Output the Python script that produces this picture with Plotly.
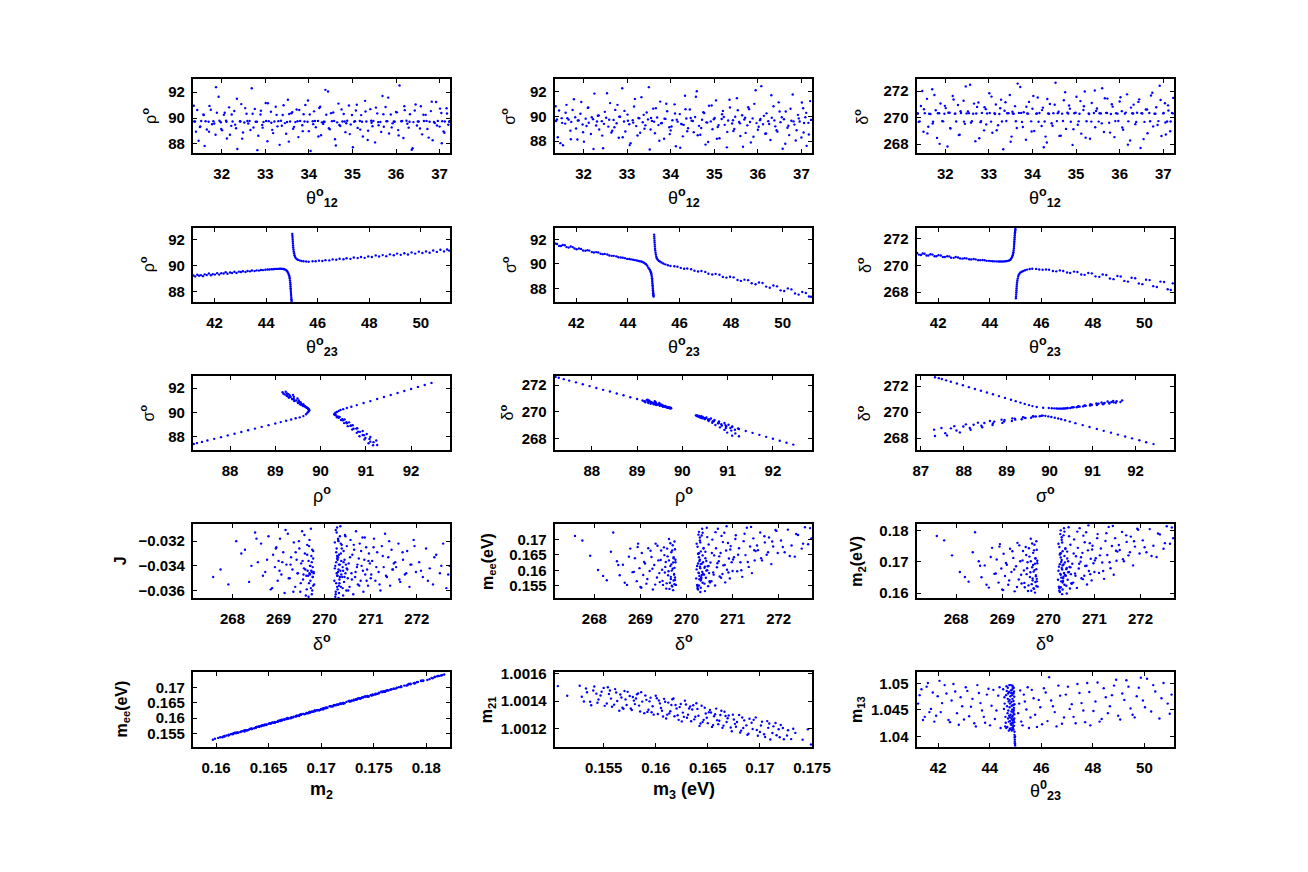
import plotly.graph_objects as go

W, H = 1308, 872

# ---------------- Row 1: scans against theta12 ----------------
B_th12 = [31.37, 31.41, 31.44, 31.50, 31.53, 31.58, 31.61, 31.66, 31.70, 31.72,
          31.78, 31.81, 31.86, 31.89, 31.93, 31.98, 32.01, 32.05, 32.10, 32.12,
          32.17, 32.22, 32.25, 32.29, 32.33, 32.36, 32.42, 32.45, 32.49, 32.52,
          32.57, 32.61, 32.64, 32.69, 32.73, 32.76, 32.81, 32.84, 32.89, 32.93,
          32.96, 33.01, 33.05, 33.08, 33.13, 33.16, 33.21, 33.24, 33.28, 33.33,
          33.36, 33.40, 33.45, 33.48, 33.52, 33.57, 33.60, 33.64, 33.69, 33.72,
          33.76, 33.80, 33.85, 33.88, 33.92, 33.97, 34.00, 34.04, 34.09, 34.12,
          34.16, 34.21, 34.24, 34.28, 34.33, 34.36, 34.40, 34.44, 34.48, 34.53,
          34.56, 34.60, 34.65, 34.68, 34.72, 34.77, 34.80, 34.84, 34.88, 34.92,
          34.96, 35.01, 35.04, 35.08, 35.12, 35.17, 35.20, 35.24, 35.29, 35.32,
          35.36, 35.41, 35.44, 35.48, 35.52, 35.57, 35.60, 35.64, 35.69, 35.72,
          35.76, 35.80, 35.84, 35.88, 35.92, 35.97, 36.00, 36.05, 36.08, 36.12,
          36.17, 36.20, 36.24, 36.29, 36.32, 36.36, 36.40, 36.45, 36.48, 36.52,
          36.57, 36.60, 36.64, 36.68, 36.72, 36.77, 36.80, 36.84, 36.89, 36.92,
          36.96, 37.00, 37.04, 37.09, 37.12, 37.16, 37.20, 37.23, 37.05, 33.55,
          37.22, 37.17, 37.11, 37.06, 37.01, 36.94, 36.87, 36.82, 36.75, 36.70,
          36.63, 36.55, 36.50, 36.43, 36.38, 36.31, 36.26, 36.19, 36.14, 36.06,
          36.02, 35.95, 35.90, 35.82, 35.78, 35.71, 35.66, 35.59, 35.54, 35.46,
          35.43, 35.35, 35.30, 35.22, 35.18, 35.10, 35.06, 34.99, 34.94, 34.86,
          34.82, 34.75, 34.70, 34.62, 34.58, 34.51, 34.46, 34.38, 34.34, 34.26,
          34.22, 34.14, 34.10, 34.02, 33.98, 33.90, 33.86, 33.78, 33.74, 33.66,
          33.62, 33.54, 33.50, 33.42, 33.38, 33.30, 33.26, 33.18, 33.14, 33.06,
          33.02, 32.94, 32.90, 32.82, 32.78, 32.71, 32.66, 32.59, 32.54, 32.47,
          32.43, 32.35, 32.31, 32.23, 32.19, 32.11, 32.07, 31.99, 31.95, 31.87,
          31.83, 31.75, 31.71, 31.63, 31.59, 31.51, 31.47, 31.39, 31.36, 34.30]
B_rho = [89.74, 88.95, 90.62, 89.31, 89.77, 90.28, 87.85, 89.12, 89.71, 90.94,
         89.52, 89.76, 88.71, 90.41, 91.65, 89.68, 89.05, 90.25, 89.79, 88.42,
         90.83, 89.40, 89.73, 90.55, 89.21, 87.61, 89.75, 91.08, 88.88, 89.66,
         90.33, 89.58, 89.78, 92.31, 89.27, 90.71, 89.72, 88.63, 90.27, 89.47,
         89.70, 91.17, 88.21, 89.76, 90.49, 89.09, 89.74, 90.88, 89.36, 87.93,
         89.79, 90.24, 89.61, 88.79, 91.42, 89.73, 90.37, 89.18, 89.69, 90.66,
         88.53, 89.77, 89.44, 90.29, 91.01, 89.71, 88.99, 87.45, 89.75, 90.52,
         89.29, 89.78, 90.78, 88.67, 89.55, 89.72, 90.26, 92.05, 89.14, 89.76,
         90.43, 88.36, 89.67, 91.12, 89.39, 89.74, 90.31, 88.91, 89.79, 90.97,
         89.50, 87.74, 89.71, 90.59, 89.24, 89.77, 90.23, 88.58, 91.33, 89.73,
         89.02, 90.69, 89.64, 89.78, 88.12, 90.36, 89.45, 89.70, 91.71, 89.33,
         90.85, 89.76, 88.81, 90.27, 89.59, 89.72, 90.47, 89.07, 92.52, 89.75,
         88.46, 90.61, 89.79, 89.26, 90.30, 87.55, 89.69, 91.05, 89.42, 89.74,
         90.91, 88.74, 89.77, 90.25, 89.16, 89.71, 90.54, 88.28, 89.62, 91.24,
         89.78, 89.34, 90.39, 88.97, 89.73, 90.76, 89.48, 89.76, 88.05, 90.32,
         89.72, 90.35, 88.87, 89.76, 90.73, 89.43, 89.70, 91.27, 88.49, 89.78,
         90.26, 89.19, 89.74, 90.58, 87.67, 89.71, 89.56, 90.92, 89.77, 88.66,
         90.44, 89.73, 89.28, 91.58, 89.75, 90.29, 88.93, 89.69, 90.81, 89.37,
         89.79, 88.31, 90.51, 89.72, 89.11, 91.03, 89.76, 90.24, 88.76, 89.60,
         89.74, 90.67, 89.47, 87.88, 89.78, 90.38, 89.22, 92.18, 89.71, 90.87,
         88.57, 89.77, 89.53, 90.28, 91.36, 89.73, 88.99, 90.62, 89.75, 89.32,
         90.46, 88.18, 89.70, 90.99, 89.41, 89.76, 90.25, 88.84, 89.64, 91.15,
         89.78, 89.26, 90.56, 87.52, 89.72, 90.33, 89.08, 89.77, 90.77, 88.41,
         89.74, 91.49, 89.49, 90.27, 88.71, 89.71, 90.41, 89.15, 89.79, 92.39,
         89.58, 90.64, 88.95, 89.75, 90.23, 89.35, 88.25, 89.73, 90.95, 89.67]
B_sig = [89.62, 88.31, 90.47, 89.85, 87.66, 89.41, 90.93, 89.73, 88.84, 89.55,
         91.38, 89.92, 88.12, 89.67, 90.21, 89.34, 87.95, 89.81, 90.68, 89.48,
         88.57, 89.77, 91.84, 89.26, 90.05, 88.93, 89.61, 87.42, 90.36, 89.88,
         89.17, 91.07, 88.69, 89.71, 90.52, 89.44, 88.26, 89.96, 92.27, 89.58,
         88.77, 90.14, 89.36, 87.83, 89.69, 90.79, 89.21, 88.45, 89.84, 91.55,
         89.52, 88.99, 90.31, 89.75, 87.31, 89.63, 90.62, 88.63, 89.91, 89.29,
         91.19, 89.46, 88.18, 89.79, 90.41, 89.11, 88.86, 89.68, 90.97, 87.58,
         89.57, 90.18, 89.39, 88.38, 91.66, 89.82, 89.03, 90.55, 89.65, 88.72,
         89.94, 92.03, 89.23, 88.51, 89.72, 90.27, 87.71, 89.49, 90.86, 89.59,
         88.95, 89.87, 91.29, 89.14, 88.22, 89.78, 90.44, 89.31, 87.49, 89.66,
         90.71, 89.42, 88.81, 89.97, 91.47, 89.55, 88.41, 90.09, 89.74, 88.66,
         89.27, 90.58, 87.89, 89.83, 91.01, 89.45, 88.91, 89.69, 92.44, 89.36,
         88.59, 90.24, 89.61, 88.08, 89.89, 90.82, 89.19, 88.76, 91.13, 89.53,
         87.37, 89.76, 90.39, 89.08, 88.48, 89.64, 91.77, 89.33, 88.87, 90.12,
         89.58, 88.29, 90.65, 89.93, 87.61, 89.47, 91.23, 89.71, 88.69, 89.86,
         89.71, 88.53, 90.28, 89.46, 91.12, 89.83, 88.04, 89.59, 90.61, 89.24,
         87.78, 89.92, 90.39, 88.88, 89.67, 91.71, 89.38, 88.61, 90.04, 89.79,
         89.15, 92.11, 88.35, 89.54, 90.73, 89.89, 87.54, 89.43, 90.49, 88.97,
         89.68, 91.34, 88.74, 89.95, 90.17, 89.29, 88.19, 89.76, 90.88, 87.92,
         89.51, 90.33, 89.06, 88.47, 91.58, 89.62, 89.87, 88.79, 90.57, 89.35,
         87.46, 89.73, 90.23, 89.18, 88.56, 91.02, 89.81, 89.44, 88.02, 90.66,
         89.57, 88.93, 92.36, 89.27, 90.12, 88.67, 89.86, 91.41, 89.49, 87.67,
         89.64, 90.44, 88.31, 89.96, 90.93, 89.11, 88.83, 89.72, 91.87, 89.39,
         88.44, 90.07, 89.58, 87.36, 89.93, 90.71, 89.22, 88.71, 91.16, 89.66,
         89.01, 90.51, 88.14, 89.84, 90.29, 89.47, 87.83, 89.74, 90.82, 89.31]
B_dl = [270.31, 269.72, 270.88, 268.94, 270.34, 271.42, 269.31, 270.28, 272.15, 269.69,
        270.56, 268.47, 270.33, 271.07, 269.74, 270.29, 270.72, 267.82, 270.37, 269.18,
        271.63, 270.30, 269.71, 270.95, 268.71, 270.35, 271.28, 269.53, 270.32, 270.47,
        272.48, 269.73, 270.29, 268.22, 270.81, 271.14, 269.66, 270.36, 269.04, 270.64,
        270.31, 271.84, 269.70, 268.86, 270.34, 270.99, 269.42, 270.28, 271.36, 267.61,
        270.52, 269.75, 270.33, 271.71, 268.57, 270.30, 270.87, 269.22, 270.36, 272.31,
        269.68, 270.41, 268.33, 270.32, 271.19, 269.72, 270.67, 268.99, 270.29, 271.52,
        270.35, 269.37, 270.76, 269.71, 268.12, 270.31, 271.03, 269.58, 270.34, 272.63,
        269.74, 270.44, 268.64, 270.30, 271.31, 269.15, 270.37, 270.92, 269.69, 267.94,
        270.33, 271.58, 269.46, 270.29, 268.79, 270.58, 271.97, 269.73, 270.32, 268.41,
        271.11, 270.35, 269.27, 270.69, 269.70, 270.31, 272.22, 268.91, 270.36, 271.44,
        269.61, 270.28, 270.83, 268.53, 270.34, 269.75, 271.22, 270.49, 269.09, 270.30,
        271.76, 269.72, 268.27, 270.33, 270.98, 269.51, 270.37, 271.38, 267.71, 270.31,
        269.68, 270.62, 268.82, 270.35, 271.67, 269.34, 270.29, 270.79, 269.74, 272.41,
        268.61, 270.32, 271.09, 269.71, 270.54, 268.97, 270.36, 271.49, 269.63, 270.30,
        270.32, 269.71, 270.93, 268.73, 270.36, 271.33, 269.44, 270.29, 271.88, 269.73,
        270.61, 268.38, 270.34, 271.19, 269.68, 270.31, 270.76, 267.96, 270.38, 269.26,
        271.54, 270.30, 269.74, 271.01, 268.87, 270.35, 271.47, 269.57, 270.33, 270.51,
        272.05, 269.70, 270.28, 268.49, 270.86, 271.25, 269.72, 270.37, 269.12, 270.68,
        270.31, 271.92, 269.75, 268.62, 270.34, 270.97, 269.39, 270.29, 271.41, 267.76,
        270.57, 269.69, 270.32, 271.64, 268.95, 270.30, 270.82, 269.29, 270.36, 272.57,
        269.73, 270.45, 268.18, 270.33, 271.16, 269.71, 270.71, 269.05, 270.28, 271.59,
        270.35, 269.49, 270.79, 269.74, 268.44, 270.31, 271.06, 269.62, 270.34, 272.36,
        269.70, 270.48, 268.68, 270.30, 271.37, 269.21, 270.37, 270.89, 269.72, 268.02,
        270.33, 271.71, 269.55, 270.29, 268.81, 270.63, 272.01, 269.68, 270.32, 268.57]

# ---------------- Rows 2-3: theta23, rho, sigma, delta ----------------
A_th23 = [41.18, 41.25, 41.33, 41.4, 41.47, 41.55, 41.62, 41.7, 41.78, 41.86,
          41.93, 42.01, 42.1, 42.18, 42.26, 42.35, 42.43, 42.5, 42.6, 42.68,
          42.77, 42.85, 42.94, 43.02, 43.1, 43.2, 43.28, 43.37, 43.45, 43.55,
          43.63, 43.72, 43.8, 43.88, 43.97,
          44.05, 44.12, 44.2, 44.27, 44.34, 44.4, 44.46, 44.52, 44.57, 44.62, 44.66, 44.7,
          44.75, 44.79, 44.82, 44.85, 44.87, 44.89, 44.905, 44.915, 44.925, 44.935, 44.94,
          44.945, 44.95, 44.955, 44.96, 44.965, 44.97, 44.975, 44.98, 44.985, 44.99, 44.995,
          45.015, 45.02, 45.025, 45.03, 45.035, 45.04, 45.045, 45.05, 45.06, 45.07, 45.085,
          45.1, 45.12, 45.15, 45.19, 45.24, 45.3, 45.37, 45.45, 45.55, 45.65,
          45.8, 45.92, 46.05, 46.18, 46.3, 46.45, 46.58, 46.72, 46.85, 47.0,
          47.12, 47.27, 47.4, 47.55, 47.68, 47.82, 47.96, 48.1, 48.25, 48.38,
          48.52, 48.66, 48.8, 48.95, 49.08, 49.22, 49.36, 49.5, 49.64, 49.78,
          49.92, 50.06, 50.2, 50.34, 50.48, 50.62, 50.76, 50.9, 51.02, 51.1]
A_rho = [89.23, 89.16, 89.29, 89.21, 89.26, 89.18, 89.32, 89.26, 89.39, 89.25,
         89.34, 89.30, 89.41, 89.30, 89.41, 89.38, 89.49, 89.37, 89.46, 89.42,
         89.52, 89.42, 89.53, 89.50, 89.56, 89.50, 89.58, 89.55, 89.62, 89.57,
         89.63, 89.61, 89.66, 89.65, 89.68,
         89.69, 89.70, 89.72, 89.72, 89.73, 89.74, 89.74, 89.75, 89.75, 89.74, 89.73, 89.71,
         89.68, 89.62, 89.54, 89.45, 89.35, 89.24, 89.12, 89.0, 88.85, 88.7, 88.55,
         88.4, 88.25, 88.1, 87.95, 87.8, 87.65, 87.5, 87.38, 87.27, 87.2, 87.12,
         92.45, 92.3, 92.15, 92.0, 91.85, 91.7, 91.55, 91.4, 91.25, 91.1, 90.95,
         90.8, 90.68, 90.58, 90.5, 90.44, 90.4, 90.36, 90.33, 90.31, 90.30,
         90.33, 90.33, 90.38, 90.36, 90.42, 90.40, 90.48, 90.45, 90.53, 90.49,
         90.57, 90.52, 90.63, 90.58, 90.67, 90.60, 90.71, 90.66, 90.79, 90.70,
         90.81, 90.73, 90.87, 90.80, 90.93, 90.83, 90.96, 90.86, 91.02, 90.93,
         91.08, 90.97, 91.10, 90.99, 91.17, 91.06, 91.23, 91.10, 91.25, 91.16]
A_sig = [91.69, 91.65, 91.49, 91.48, 91.56, 91.54, 91.39, 91.35, 91.44, 91.39,
         91.27, 91.21, 91.28, 91.24, 91.11, 91.09, 91.14, 91.10, 90.98, 90.95,
         90.98, 90.94, 90.84, 90.81, 90.83, 90.78, 90.70, 90.67, 90.67, 90.63,
         90.56, 90.53, 90.52, 90.48, 90.42,
         90.41, 90.38, 90.35, 90.32, 90.29, 90.26, 90.23, 90.20, 90.16, 90.11, 90.05, 89.98,
         89.85, 89.70, 89.60, 89.52, 89.42, 89.32, 89.21, 89.10, 88.96, 88.82, 88.68,
         88.54, 88.40, 88.26, 88.12, 87.98, 87.84, 87.70, 87.59, 87.49, 87.42, 87.33,
         92.42, 92.25, 92.09, 91.92, 91.76, 91.59, 91.43, 91.26, 91.10, 90.93, 90.77,
         90.60, 90.47, 90.36, 90.27, 90.20, 90.12, 90.04, 89.97, 89.90, 89.84,
         89.81, 89.77, 89.68, 89.61, 89.63, 89.57, 89.44, 89.38, 89.42, 89.35,
         89.20, 89.13, 89.19, 89.12, 88.94, 88.88, 88.95, 88.90, 88.68, 88.61,
         88.71, 88.67, 88.41, 88.33, 88.48, 88.43, 88.14, 88.05, 88.23, 88.16,
         87.83, 87.78, 87.99, 87.91, 87.57, 87.48, 87.70, 87.61, 87.33, 87.31]
A_dl = [270.91, 270.79, 270.76, 270.87, 270.85, 270.72, 270.72, 270.82, 270.79, 270.67,
        270.67, 270.75, 270.72, 270.61, 270.61, 270.67, 270.66, 270.56, 270.55, 270.61,
        270.58, 270.51, 270.49, 270.53, 270.51, 270.45, 270.43, 270.46, 270.44, 270.38,
        270.38, 270.39, 270.37, 270.33, 270.33,
        270.31, 270.30, 270.29, 270.29, 270.28, 270.28, 270.28, 270.28, 270.29, 270.30, 270.31, 270.33,
        270.35, 270.40, 270.47, 270.55, 270.64, 270.74, 270.85, 270.96, 271.10, 271.24, 271.38,
        271.52, 271.65, 271.79, 271.93, 272.07, 272.21, 272.34, 272.45, 272.55, 272.62, 272.69,
        267.55, 267.69, 267.84, 267.99, 268.13, 268.28, 268.43, 268.57, 268.72, 268.87, 269.01,
        269.16, 269.28, 269.38, 269.46, 269.52, 269.58, 269.63, 269.68, 269.72, 269.74,
        269.73, 269.69, 269.67, 269.69, 269.67, 269.58, 269.55, 269.62, 269.58, 269.46,
        269.43, 269.53, 269.50, 269.32, 269.29, 269.43, 269.40, 269.18, 269.14, 269.32,
        269.28, 269.02, 268.97, 269.20, 269.17, 268.84, 268.79, 269.07, 269.04, 268.65,
        268.60, 268.93, 268.90, 268.45, 268.39, 268.79, 268.76, 268.22, 268.17, 268.66]

# ---------------- Row 4 (and row 5, col 1): delta, J, m2, mee ----------------
C_dl = [267.58, 267.91, 268.08, 268.27, 268.41, 268.49, 268.55, 268.62, 268.71, 268.78,
        268.83, 268.88, 268.92, 268.95, 268.98, 269.00, 269.03, 269.06, 269.10, 269.13,
        269.17, 269.20, 269.24, 269.27, 269.30, 269.33, 269.36, 269.39, 269.42, 269.45,
        269.47, 269.49, 269.51, 269.53, 269.55, 269.57, 269.59, 269.60, 269.62, 269.63,
        269.65, 269.66, 269.67, 269.68, 269.69, 269.70, 269.71, 269.72, 269.72, 269.73,
        269.74, 269.74, 269.75, 269.75, 269.76,
        270.22, 270.23, 270.24, 270.25, 270.25, 270.26, 270.27, 270.27, 270.28, 270.29,
        270.29, 270.30, 270.31, 270.31, 270.32, 270.33, 270.34, 270.35, 270.35, 270.36,
        270.37, 270.38, 270.39, 270.40, 270.41, 270.42, 270.43, 270.44, 270.45, 270.46,
        270.47, 270.48, 270.49, 270.50, 270.27,
        270.52, 270.54, 270.56, 270.58, 270.60, 270.62, 270.64, 270.66, 270.68, 270.70,
        270.72, 270.74, 270.76, 270.78, 270.80, 270.82, 270.84, 270.86, 270.88, 270.90,
        270.92, 270.94, 270.96, 270.98, 271.00,
        271.03, 271.07, 271.10, 271.14, 271.17, 271.21, 271.24, 271.28, 271.31, 271.35,
        271.38, 271.42, 271.45, 271.48, 271.50,
        271.55, 271.60, 271.64, 271.70, 271.74, 271.79, 271.84, 271.88, 271.93, 271.98,
        272.05, 272.13, 272.20, 272.28, 272.35, 272.42, 272.50, 272.57, 272.64, 272.71,
        267.74, 268.19, 268.36, 268.52, 268.66, 268.75, 268.86, 268.94, 269.02, 269.08,
        269.15, 269.22, 269.26, 269.32, 269.37, 269.41, 269.44, 269.48, 269.52, 269.54,
        269.56, 269.58, 269.61, 269.62, 269.64, 269.65, 269.66, 269.67, 269.68, 269.69,
        269.70, 269.71, 269.72, 269.73, 269.74, 269.75, 269.76, 269.77,
        270.21, 270.22, 270.23, 270.24, 270.25, 270.26, 270.26, 270.27, 270.28, 270.28,
        270.29, 270.30, 270.30, 270.31, 270.32, 270.33, 270.34, 270.36, 270.37, 270.39,
        270.41, 270.43, 270.45, 270.48, 270.51, 270.55, 270.59, 270.63, 270.67, 270.71,
        270.75, 270.79, 270.83, 270.87, 270.91, 270.95, 271.01, 271.06, 271.12, 271.19,
        271.26, 271.33, 271.40, 271.47, 271.53, 271.62, 271.69, 271.77, 271.86, 271.95,
        272.09, 272.24, 272.38, 272.53, 272.68, 270.24, 270.29, 270.33, 270.27, 270.31,
        270.35, 270.40]
C_J = [-0.0349, -0.0355, -0.0320, -0.0327, -0.0340, -0.0313, -0.0337, -0.0322, -0.0345, -0.0316,
       -0.0359, -0.0331, -0.0341, -0.0325, -0.0352, -0.0336, -0.0318, -0.0347, -0.0329, -0.0362,
       -0.0339, -0.0314, -0.0350, -0.0333, -0.0343, -0.0321, -0.0357, -0.0335, -0.0346, -0.0326,
       -0.0361, -0.0338, -0.0312, -0.0351, -0.0342, -0.0330, -0.0364, -0.0348, -0.0323, -0.0344,
       -0.0336, -0.0354, -0.0319, -0.0347, -0.0340, -0.0358, -0.0332, -0.0345, -0.0363, -0.0327,
       -0.0349, -0.0341, -0.0356, -0.0334, -0.0345,
       -0.0342, -0.0365, -0.0311, -0.0337, -0.0354, -0.0326, -0.0348, -0.0309, -0.0359, -0.0333,
       -0.0345, -0.0320, -0.0362, -0.0339, -0.0351, -0.0316, -0.0344, -0.0330, -0.0357, -0.0336,
       -0.0323, -0.0349, -0.0341, -0.0364, -0.0328, -0.0353, -0.0335, -0.0315, -0.0346, -0.0339,
       -0.0360, -0.0324, -0.0343, -0.0350, -0.0332,
       -0.0338, -0.0357, -0.0319, -0.0346, -0.0331, -0.0363, -0.0327, -0.0349, -0.0312, -0.0341,
       -0.0355, -0.0334, -0.0322, -0.0352, -0.0340, -0.0317, -0.0361, -0.0335, -0.0347, -0.0325,
       -0.0343, -0.0356, -0.0330, -0.0338, -0.0350,
       -0.0336, -0.0318, -0.0352, -0.0329, -0.0345, -0.0360, -0.0324, -0.0341, -0.0314, -0.0349,
       -0.0333, -0.0356, -0.0327, -0.0343, -0.0338,
       -0.0341, -0.0322, -0.0353, -0.0335, -0.0347, -0.0328, -0.0357, -0.0339, -0.0319, -0.0345,
       -0.0337, -0.0349, -0.0326, -0.0342, -0.0355, -0.0331, -0.0346, -0.0322, -0.0358, -0.0340,
       -0.0343, -0.0330, -0.0353, -0.0318, -0.0348, -0.0335, -0.0358, -0.0326, -0.0344, -0.0337,
       -0.0311, -0.0350, -0.0339, -0.0361, -0.0329, -0.0346, -0.0320, -0.0354, -0.0336, -0.0347,
       -0.0315, -0.0343, -0.0359, -0.0331, -0.0348, -0.0365, -0.0324, -0.0346, -0.0340, -0.0352,
       -0.0310, -0.0344, -0.0337, -0.0360, -0.0349, -0.0328, -0.0346, -0.0355,
       -0.0352, -0.0321, -0.0340, -0.0363, -0.0329, -0.0346, -0.0313, -0.0357, -0.0335, -0.0348,
       -0.0319, -0.0343, -0.0366, -0.0331, -0.0354, -0.0339, -0.0308, -0.0347, -0.0326, -0.0358,
       -0.0337, -0.0349, -0.0316, -0.0342, -0.0360, -0.0333, -0.0351, -0.0323, -0.0345, -0.0339,
       -0.0356, -0.0328, -0.0344, -0.0317, -0.0352, -0.0336, -0.0347, -0.0325, -0.0341, -0.0355,
       -0.0332, -0.0348, -0.0320, -0.0343, -0.0337, -0.0351, -0.0329, -0.0346, -0.0339, -0.0324,
       -0.0344, -0.0352, -0.0333, -0.0340, -0.0347, -0.0361, -0.0318, -0.0349, -0.0334, -0.0356,
       -0.0322, -0.0344]
C_m2 = [0.1783, 0.1721, 0.1668, 0.1637, 0.1795, 0.1702, 0.1651, 0.1689, 0.1618, 0.1745,
        0.1662, 0.1708, 0.1634, 0.1757, 0.1679, 0.1612, 0.1726, 0.1655, 0.1691, 0.1627,
        0.1742, 0.1668, 0.1713, 0.1606, 0.1686, 0.1761, 0.1644, 0.1702, 0.1631, 0.1735,
        0.1673, 0.1619, 0.1748, 0.1661, 0.1699, 0.1625, 0.1717, 0.1652, 0.1774, 0.1608,
        0.1683, 0.1641, 0.1729, 0.1669, 0.1614, 0.1755, 0.1694, 0.1636, 0.1712, 0.1658,
        0.1677, 0.1623, 0.1739, 0.1646, 0.1704,
        0.1672, 0.1621, 0.1748, 0.1693, 0.1604, 0.1727, 0.1659, 0.1801, 0.1638, 0.1706,
        0.1681, 0.1762, 0.1612, 0.1689, 0.1648, 0.1785, 0.1665, 0.1719, 0.1627, 0.1698,
        0.1741, 0.1656, 0.1677, 0.1599, 0.1733, 0.1643, 0.1702, 0.1811, 0.1668, 0.1684,
        0.1615, 0.1755, 0.1661, 0.1632, 0.1714,
        0.1694, 0.1634, 0.1772, 0.1663, 0.1718, 0.1617, 0.1745, 0.1679, 0.1808, 0.1701,
        0.1648, 0.1729, 0.1784, 0.1656, 0.1687, 0.1795, 0.1628, 0.1737, 0.1671, 0.1760,
        0.1710, 0.1641, 0.1752, 0.1696, 0.1668,
        0.1712, 0.1789, 0.1665, 0.1743, 0.1698, 0.1646, 0.1767, 0.1722, 0.1812, 0.1680,
        0.1751, 0.1659, 0.1776, 0.1704, 0.1733,
        0.1738, 0.1796, 0.1702, 0.1764, 0.1721, 0.1781, 0.1689, 0.1749, 0.1806, 0.1727,
        0.1769, 0.1731, 0.1805, 0.1752, 0.1716, 0.1788, 0.1742, 0.1814, 0.1758, 0.1776,
        0.1769, 0.1652, 0.1731, 0.1688, 0.1627, 0.1716, 0.1663, 0.1749, 0.1610, 0.1697,
        0.1641, 0.1734, 0.1676, 0.1620, 0.1753, 0.1659, 0.1705, 0.1633, 0.1722, 0.1680,
        0.1607, 0.1744, 0.1667, 0.1702, 0.1629, 0.1759, 0.1647, 0.1690, 0.1616, 0.1737,
        0.1674, 0.1602, 0.1711, 0.1654, 0.1766, 0.1638, 0.1696, 0.1621,
        0.1643, 0.1758, 0.1685, 0.1608, 0.1724, 0.1662, 0.1789, 0.1619, 0.1700, 0.1650,
        0.1771, 0.1676, 0.1597, 0.1734, 0.1639, 0.1692, 0.1808, 0.1659, 0.1744, 0.1624,
        0.1711, 0.1667, 0.1782, 0.1683, 0.1630, 0.1727, 0.1656, 0.1797, 0.1694, 0.1715,
        0.1645, 0.1763, 0.1688, 0.1817, 0.1661, 0.1740, 0.1705, 0.1776, 0.1721, 0.1671,
        0.1792, 0.1699, 0.1815, 0.1736, 0.1754, 0.1709, 0.1785, 0.1731, 0.1766, 0.1803,
        0.1747, 0.1719, 0.1791, 0.1760, 0.1810, 0.1616, 0.1779, 0.1653, 0.1728, 0.1634,
        0.1797, 0.1681]
C_mee = [0.1711, 0.1647, 0.1601, 0.1568, 0.1722, 0.1629, 0.1584, 0.1618, 0.1553, 0.1670,
         0.1594, 0.1639, 0.1565, 0.1686, 0.1607, 0.1546, 0.1656, 0.1585, 0.1622, 0.1557,
         0.1671, 0.1598, 0.1643, 0.1538, 0.1617, 0.1686, 0.1577, 0.1632, 0.1562, 0.1664,
         0.1602, 0.1553, 0.1674, 0.1593, 0.1627, 0.1558, 0.1645, 0.1584, 0.1701, 0.1540,
         0.1614, 0.1572, 0.1658, 0.1599, 0.1548, 0.1681, 0.1625, 0.1567, 0.1642, 0.1588,
         0.1608, 0.1555, 0.1668, 0.1577, 0.1634,
         0.1603, 0.1553, 0.1676, 0.1622, 0.1538, 0.1654, 0.1591, 0.1724, 0.1571, 0.1634,
         0.1612, 0.1690, 0.1544, 0.1620, 0.1578, 0.1712, 0.1595, 0.1648, 0.1560, 0.1626,
         0.1670, 0.1586, 0.1608, 0.1533, 0.1660, 0.1576, 0.1630, 0.1737, 0.1600, 0.1613,
         0.1549, 0.1683, 0.1591, 0.1565, 0.1642,
         0.1625, 0.1565, 0.1699, 0.1593, 0.1648, 0.1551, 0.1671, 0.1610, 0.1734, 0.1629,
         0.1580, 0.1656, 0.1711, 0.1588, 0.1616, 0.1721, 0.1561, 0.1664, 0.1602, 0.1688,
         0.1638, 0.1574, 0.1678, 0.1626, 0.1598,
         0.1642, 0.1713, 0.1597, 0.1671, 0.1626, 0.1579, 0.1694, 0.1649, 0.1737, 0.1611,
         0.1677, 0.1591, 0.1703, 0.1632, 0.1662,
         0.1665, 0.1722, 0.1632, 0.1690, 0.1650, 0.1706, 0.1620, 0.1677, 0.1730, 0.1656,
         0.1696, 0.1658, 0.1731, 0.1680, 0.1644, 0.1714, 0.1670, 0.1739, 0.1684, 0.1703,
         0.1696, 0.1582, 0.1660, 0.1617, 0.1560, 0.1644, 0.1595, 0.1675, 0.1544, 0.1627,
         0.1572, 0.1663, 0.1605, 0.1554, 0.1679, 0.1591, 0.1633, 0.1566, 0.1649, 0.1611,
         0.1541, 0.1670, 0.1597, 0.1632, 0.1560, 0.1687, 0.1579, 0.1619, 0.1550, 0.1664,
         0.1605, 0.1536, 0.1639, 0.1586, 0.1693, 0.1569, 0.1626, 0.1553,
         0.1574, 0.1686, 0.1614, 0.1542, 0.1653, 0.1592, 0.1715, 0.1551, 0.1630, 0.1582,
         0.1696, 0.1607, 0.1530, 0.1661, 0.1572, 0.1621, 0.1734, 0.1589, 0.1672, 0.1557,
         0.1639, 0.1599, 0.1707, 0.1614, 0.1561, 0.1656, 0.1586, 0.1723, 0.1623, 0.1645,
         0.1576, 0.1691, 0.1617, 0.1742, 0.1593, 0.1667, 0.1635, 0.1701, 0.1650, 0.1600,
         0.1718, 0.1627, 0.1740, 0.1665, 0.1680, 0.1639, 0.1710, 0.1658, 0.1693, 0.1727,
         0.1675, 0.1646, 0.1717, 0.1686, 0.1736, 0.1548, 0.1706, 0.1585, 0.1655, 0.1567,
         0.1721, 0.1612]

# ---------------- Row 5, col 2: m3 vs m21 ----------------
D_m3 = [0.1527, 0.1531, 0.1534, 0.1538, 0.1541, 0.1545, 0.1548, 0.1551, 0.1554, 0.1557,
        0.1560, 0.1562, 0.1565, 0.1567, 0.1570, 0.1572, 0.1575, 0.1577, 0.1579, 0.1582,
        0.1584, 0.1586, 0.1589, 0.1591, 0.1593, 0.1595, 0.1597, 0.1600, 0.1602, 0.1604,
        0.1606, 0.1608, 0.1610, 0.1612, 0.1614, 0.1616, 0.1618, 0.1620, 0.1622, 0.1624,
        0.1626, 0.1628, 0.1630, 0.1632, 0.1634, 0.1636, 0.1638, 0.1640, 0.1642, 0.1644,
        0.1646, 0.1648, 0.1650, 0.1652, 0.1654, 0.1656, 0.1658, 0.1660, 0.1662, 0.1664,
        0.1666, 0.1668, 0.1670, 0.1673, 0.1675, 0.1677, 0.1680, 0.1682, 0.1685, 0.1688,
        0.1690, 0.1693, 0.1696, 0.1698, 0.1701, 0.1704, 0.1707, 0.1710, 0.1713, 0.1716,
        0.1720, 0.1723, 0.1727, 0.1730, 0.1734, 0.1506, 0.1515, 0.1741, 0.1746, 0.1749,
        0.1556, 0.1569, 0.1581, 0.1596, 0.1603, 0.1611, 0.1619, 0.1627, 0.1633, 0.1645,
        0.1651, 0.1659, 0.1667, 0.1676, 0.1684, 0.1692, 0.1700, 0.1709, 0.1718, 0.1543,
        0.1529, 0.1533, 0.1537, 0.1540, 0.1544, 0.1547, 0.1550, 0.1553, 0.1555, 0.1558,
        0.1561, 0.1563, 0.1566, 0.1568, 0.1571, 0.1573, 0.1576, 0.1578, 0.1580, 0.1583,
        0.1585, 0.1587, 0.1590, 0.1592, 0.1594, 0.1598, 0.1601, 0.1605, 0.1607, 0.1609,
        0.1613, 0.1615, 0.1617, 0.1621, 0.1623, 0.1625, 0.1629, 0.1631, 0.1635, 0.1637,
        0.1639, 0.1641, 0.1643, 0.1647, 0.1649, 0.1653, 0.1655, 0.1657, 0.1661, 0.1663,
        0.1665, 0.1669, 0.1672, 0.1674, 0.1678, 0.1681, 0.1683, 0.1687, 0.1689, 0.1694,
        0.1697, 0.1702, 0.1705, 0.1708, 0.1712, 0.1715, 0.1719, 0.1722, 0.1726, 0.1732]
D_m21 = [1.001513, 1.001398, 1.001465, 1.001370, 1.001507, 1.001412, 1.001469, 1.001366, 1.001502, 1.001419,
         1.001375, 1.001463, 1.001330, 1.001427, 1.001474, 1.001372, 1.001438, 1.001336, 1.001404, 1.001450,
         1.001368, 1.001466, 1.001313, 1.001410, 1.001338, 1.001426, 1.001363, 1.001440, 1.001307, 1.001384,
         1.001330, 1.001417, 1.001274, 1.001390, 1.001327, 1.001414, 1.001290, 1.001347, 1.001264, 1.001380,
         1.001317, 1.001404, 1.001280, 1.001347, 1.001254, 1.001370, 1.001287, 1.001344, 1.001220, 1.001367,
         1.001264, 1.001310, 1.001240, 1.001337, 1.001213, 1.001290, 1.001346, 1.001233, 1.001300, 1.001206,
         1.001323, 1.001249, 1.001296, 1.001181, 1.001267, 1.001214, 1.001299, 1.001186, 1.001260, 1.001155,
         1.001272, 1.001197, 1.001282, 1.001148, 1.001223, 1.001159, 1.001255, 1.001121, 1.001217, 1.001152,
         1.001227, 1.001123, 1.001188, 1.001124, 1.001169, 1.001510, 1.001440, 1.001120, 1.001195, 1.001085,
         1.001478, 1.001345, 1.001420, 1.001320, 1.001405, 1.001302, 1.001372, 1.001286, 1.001361, 1.001248,
         1.001320, 1.001262, 1.001292, 1.001235, 1.001205, 1.001243, 1.001176, 1.001238, 1.001196, 1.001455,
         1.001432, 1.001492, 1.001396, 1.001478, 1.001389, 1.001441, 1.001497, 1.001383, 1.001452, 1.001360,
         1.001488, 1.001401, 1.001449, 1.001352, 1.001413, 1.001468, 1.001347, 1.001431, 1.001379, 1.001457,
         1.001325, 1.001397, 1.001441, 1.001322, 1.001399, 1.001302, 1.001421, 1.001350, 1.001289, 1.001396,
         1.001311, 1.001372, 1.001420, 1.001298, 1.001357, 1.001253, 1.001376, 1.001302, 1.001340, 1.001268,
         1.001385, 1.001294, 1.001238, 1.001352, 1.001279, 1.001318, 1.001226, 1.001305, 1.001258, 1.001331,
         1.001222, 1.001276, 1.001209, 1.001302, 1.001248, 1.001172, 1.001281, 1.001224, 1.001163, 1.001264,
         1.001190, 1.001251, 1.001139, 1.001206, 1.001168, 1.001241, 1.001137, 1.001205, 1.001150, 1.001199]

# ---------------- Row 5, col 3: theta23 vs m13 ----------------
E_th23 = [44.52, 44.58, 44.61, 44.65, 44.68, 44.70, 44.72, 44.74, 44.75, 44.77,
          44.78, 44.80, 44.81, 44.82, 44.83, 44.84, 44.85, 44.86, 44.87, 44.88,
          44.88, 44.89, 44.90, 44.90, 44.91, 44.91, 44.92, 44.92, 44.93, 44.93,
          44.94, 44.94, 44.95, 44.95, 44.96, 44.96, 44.63, 44.69, 44.73, 44.79,
          44.55, 44.60, 44.66, 44.71, 44.76, 44.86, 44.89, 44.92, 44.85, 44.80,
          44.62, 44.67, 44.71, 44.74, 44.77, 44.79, 44.82, 44.84, 44.86, 44.87,
          44.89, 44.90, 44.91, 44.93, 44.94, 44.95, 44.57, 44.64, 44.70, 44.75,
          44.78, 44.81, 44.83, 44.85, 44.87, 44.88, 44.90, 44.92, 44.93, 44.95,
          44.96, 44.965, 44.97, 44.97, 44.975, 44.98, 44.98, 44.985,
          41.22, 41.35, 41.48, 41.60, 41.72, 41.85, 41.98, 42.10, 42.25, 42.40,
          42.52, 42.66, 42.80, 42.93, 43.07, 43.20, 43.33, 43.46, 43.58, 43.70,
          43.82, 43.95, 44.07, 44.20, 44.33, 44.42, 45.10, 45.18, 45.27, 45.36,
          45.47, 45.58, 45.70, 45.83, 45.96, 46.10, 46.24, 46.38, 46.52, 46.66,
          46.80, 46.95, 47.10, 47.25, 47.40, 47.56, 47.70, 47.86, 48.02, 48.18,
          48.34, 48.50, 48.66, 48.82, 48.98, 49.14, 49.30, 49.46, 49.62, 49.78,
          49.94, 50.10, 50.26, 50.42, 50.58, 50.74, 50.90, 51.05, 42.05, 46.30, 47.90,
          41.28, 41.41, 41.55, 41.66, 41.79, 41.92, 42.15, 42.32, 42.46, 42.59,
          42.73, 42.87, 43.00, 43.13, 43.27, 43.40, 43.52, 43.64, 43.77, 43.89,
          44.01, 44.14, 44.26, 44.38, 45.14, 45.22, 45.32, 45.42, 45.52, 45.63,
          45.76, 45.90, 46.03, 46.17, 46.45, 46.59, 46.73, 46.88, 47.03, 47.18,
          47.33, 47.48, 47.63, 47.78, 48.10, 48.26, 48.42, 48.58, 48.74, 48.90,
          49.06, 49.22, 49.38, 49.54, 49.70, 49.86, 50.02, 50.34, 50.66, 50.98]
E_m13 = [1.0489, 1.0462, 1.0437, 1.0495, 1.0418, 1.0471, 1.0449, 1.0428, 1.0484, 1.0455,
         1.0414, 1.0476, 1.0441, 1.0497, 1.0422, 1.0465, 1.0433, 1.0488, 1.0451, 1.0417,
         1.0471, 1.0439, 1.0459, 1.0426, 1.0482, 1.0445, 1.0413, 1.0467, 1.0431, 1.0492,
         1.0454, 1.0420, 1.0475, 1.0442, 1.0461, 1.0409, 1.0478, 1.0444, 1.0466, 1.0429,
         1.0452, 1.0419, 1.0486, 1.0434, 1.0497, 1.0425, 1.0494, 1.0448, 1.0458, 1.0415,
         1.0426, 1.0457, 1.0481, 1.0411, 1.0469, 1.0436, 1.0487, 1.0447, 1.0412, 1.0478,
         1.0430, 1.0491, 1.0421, 1.0460, 1.0485, 1.0427, 1.0474, 1.0416, 1.0492, 1.0439,
         1.0462, 1.0424, 1.0482, 1.0411, 1.0437, 1.0496, 1.0416, 1.0481, 1.0450, 1.0434,
         1.0403, 1.0398, 1.0394, 1.0390, 1.0387, 1.0384, 1.0400, 1.0382,
         1.0462, 1.0489, 1.0437, 1.0501, 1.0452, 1.0428, 1.0476, 1.0446, 1.0497, 1.0431,
         1.0468, 1.0485, 1.0422, 1.0457, 1.0493, 1.0438, 1.0471, 1.0419, 1.0482, 1.0449,
         1.0426, 1.0490, 1.0458, 1.0433, 1.0477, 1.0416, 1.0444, 1.0487, 1.0421, 1.0466,
         1.0493, 1.0436, 1.0472, 1.0418, 1.0455, 1.0491, 1.0429, 1.0468, 1.0446, 1.0496,
         1.0424, 1.0479, 1.0452, 1.0437, 1.0499, 1.0463, 1.0427, 1.0484, 1.0448, 1.0502,
         1.0433, 1.0474, 1.0457, 1.0496, 1.0439, 1.0481, 1.0506, 1.0453, 1.0436, 1.0492,
         1.0468, 1.0509, 1.0447, 1.0485, 1.0434, 1.0501, 1.0462, 1.0479, 1.0505, 1.0512, 1.0421,
         1.0478, 1.0431, 1.0494, 1.0446, 1.0483, 1.0439, 1.0463, 1.0481, 1.0427, 1.0499,
         1.0444, 1.0474, 1.0432, 1.0486, 1.0456, 1.0425, 1.0497, 1.0463, 1.0437, 1.0479,
         1.0421, 1.0488, 1.0449, 1.0493, 1.0462, 1.0428, 1.0479, 1.0451, 1.0416, 1.0488,
         1.0441, 1.0469, 1.0423, 1.0483, 1.0457, 1.0419, 1.0477, 1.0436, 1.0494, 1.0461,
         1.0425, 1.0482, 1.0449, 1.0501, 1.0466, 1.0428, 1.0491, 1.0444, 1.0478, 1.0507,
         1.0432, 1.0469, 1.0494, 1.0441, 1.0476, 1.0511, 1.0455, 1.0497, 1.0472, 1.0443]

# ---------------- Ticks ----------------
T_th12 = [32, 33, 34, 35, 36, 37]
T_th23 = [42, 44, 46, 48, 50]
T_ang = [88, 90, 92]
T_dly = [268, 270, 272]
T_rhox = [88, 89, 90, 91, 92]
T_sigx = [87, 88, 89, 90, 91, 92]
T_dlx = [268, 269, 270, 271, 272]
T_J = [-0.036, -0.034, -0.032]
L_J = ["\u22120.036", "\u22120.034", "\u22120.032"]
T_mee = [0.155, 0.16, 0.165, 0.17]
L_mee = ["0.155", "0.16", "0.165", "0.17"]
T_m2y = [0.16, 0.17, 0.18]
L_m2y = ["0.16", "0.17", "0.18"]
T_m2x = [0.16, 0.165, 0.17, 0.175, 0.18]
L_m2x = ["0.16", "0.165", "0.17", "0.175", "0.18"]
T_m3 = [0.155, 0.16, 0.165, 0.17, 0.175]
L_m3 = ["0.155", "0.16", "0.165", "0.17", "0.175"]
T_m21 = [1.0012, 1.0014, 1.0016]
L_m21 = ["1.0012", "1.0014", "1.0016"]
T_m13 = [1.04, 1.045, 1.05]
L_m13 = ["1.04", "1.045", "1.05"]

TH12 = "\u03b8<sup><b>o</b></sup><sub><b>12</b></sub>"
TH23 = "\u03b8<sup><b>o</b></sup><sub><b>23</b></sub>"
TH23z = "\u03b8<sup><b>0</b></sup><sub><b>23</b></sub>"
RHO = "\u03c1<sup><b>o</b></sup>"
SIG = "\u03c3<sup><b>o</b></sup>"
DEL = "\u03b4<sup><b>o</b></sup>"

# (row, col, x, y, xrange, yrange, xticks, xlabels, yticks, ylabels, xtitle, ytitle, ytitle_x_px)
panels = [
    (0, 0, B_th12, B_rho, [31.34, 37.25], [87.27, 93.0], T_th12, None, T_ang, None, TH12, RHO, 140),
    (0, 1, B_th12, B_sig, [31.34, 37.25], [87.0, 93.0], T_th12, None, T_ang, None, TH12, SIG, 505),
    (0, 2, B_th12, B_dl, [31.34, 37.25], [267.3, 272.9], T_th12, None, T_dly, None, TH12, DEL, 864),
    (1, 0, A_th23, A_rho, [41.16, 51.15], [87.2, 92.95], T_th23, None, T_ang, None, TH23, RHO, 137),
    (1, 1, A_th23, A_sig, [41.16, 51.15], [86.9, 93.0], T_th23, None, T_ang, None, TH23, SIG, 505),
    (1, 2, A_th23, A_dl, [41.16, 51.15], [267.3, 272.8], T_th23, None, T_dly, None, TH23, DEL, 866),
    (2, 0, A_rho, A_sig, [87.18, 92.87], [86.93, 93.0], T_rhox, None, T_ang, None, RHO, SIG, 137),
    (2, 1, A_rho, A_dl, [87.18, 92.87], [267.15, 272.7], T_rhox, None, T_dly, None, RHO, DEL, 503),
    (2, 2, A_sig, A_dl, [86.9, 92.9], [267.1, 272.8], T_sigx, None, T_dly, None, SIG, DEL, 866),
    (3, 0, C_dl, C_J, [267.14, 272.73], [-0.03662, -0.03062], T_dlx, None, T_J, L_J, DEL, "<b>J</b>", 110),
    (3, 1, C_dl, C_mee, [267.14, 272.73], [0.151, 0.1749], T_dlx, None, T_mee, L_mee, DEL,
     "<b>m<sub>ee</sub>(eV)</b>", 484),
    (3, 2, C_dl, C_m2, [267.14, 272.73], [0.1584, 0.1821], T_dlx, None, T_m2y, L_m2y, DEL,
     "<b>m<sub>2</sub>(eV)</b>", 860),
    (4, 0, C_m2, C_mee, [0.1578, 0.1823], [0.1508, 0.1749], T_m2x, L_m2x, T_mee, L_mee,
     "<b>m<sub>2</sub></b>", "<b>m<sub>ee</sub>(eV)</b>", 112),
    (4, 1, D_m3, D_m21, [0.1503, 0.17503], [1.00107, 1.00161], T_m3, L_m3, T_m21, L_m21,
     "<b>m<sub>3</sub> (eV)</b>", "<b>m<sub>21</sub></b>", 484),
    (4, 2, E_th23, E_m13, [41.16, 51.15], [1.0381, 1.0521], T_th23, None, T_m13, L_m13,
     TH23z, "<b>m<sub>13</sub></b>", 860),
]

COL_L = [184, 552, 920]
BOX_W = 262
ROW_T = [65, 215, 365, 515, 665]
BOX_H = 75

FONT = "Liberation Sans, Arial, Helvetica, sans-serif"

fig = go.Figure()
layout = dict(
    width=W, height=H, autosize=False,
    margin=dict(l=0, r=0, t=0, b=0),
    paper_bgcolor="white", plot_bgcolor="white",
    showlegend=False,
    annotations=[],
)

for i, (r, c, xs, ys, xr, yr, xt, xl, yt, yl, xtitle, ytitle, ytx) in enumerate(panels):
    n = i + 1
    xa = "x" if n == 1 else f"x{n}"
    ya = "y" if n == 1 else f"y{n}"
    left = COL_L[c]
    top = ROW_T[r]
    xd = [left / W, (left + BOX_W) / W]
    yd = [1 - (top + BOX_H) / H, 1 - top / H]
    common = dict(showline=True, linewidth=2, linecolor="black", mirror="ticks",
                  ticks="inside", ticklen=4, tickwidth=1.3, tickcolor="black",
                  showgrid=False, zeroline=False, tickmode="array",
                  tickfont=dict(family=FONT, size=15, color="black", weight="bold"))
    xax = dict(common, domain=xd, range=xr, tickvals=xt, anchor=ya, ticklabelstandoff=6)
    if xl is not None:
        xax["ticktext"] = xl
    yax = dict(common, domain=yd, range=yr, tickvals=yt, anchor=xa, ticklabelstandoff=3)
    if yl is not None:
        yax["ticktext"] = yl
    layout["xaxis" if n == 1 else f"xaxis{n}"] = xax
    layout["yaxis" if n == 1 else f"yaxis{n}"] = yax

    fig.add_trace(go.Scatter(x=xs, y=ys, mode="markers", xaxis=xa, yaxis=ya,
                             marker=dict(color="rgb(0,0,255)", size=2.4, line=dict(width=0)),
                             hoverinfo="skip"))

    layout["annotations"].append(dict(
        text=xtitle, xref="paper", yref="paper",
        x=(left + BOX_W / 2) / W, y=1 - (top + BOX_H + 45) / H,
        xanchor="center", yanchor="middle", showarrow=False,
        font=dict(family=FONT, size=18, color="black")))
    layout["annotations"].append(dict(
        text=ytitle, xref="paper", yref="paper",
        x=ytx / W, y=1 - (top + BOX_H / 2) / H,
        xanchor="center", yanchor="middle", showarrow=False, textangle=-90,
        font=dict(family=FONT, size=16, color="black")))

fig.update_layout(**layout)
fig.write_html("out.html")
